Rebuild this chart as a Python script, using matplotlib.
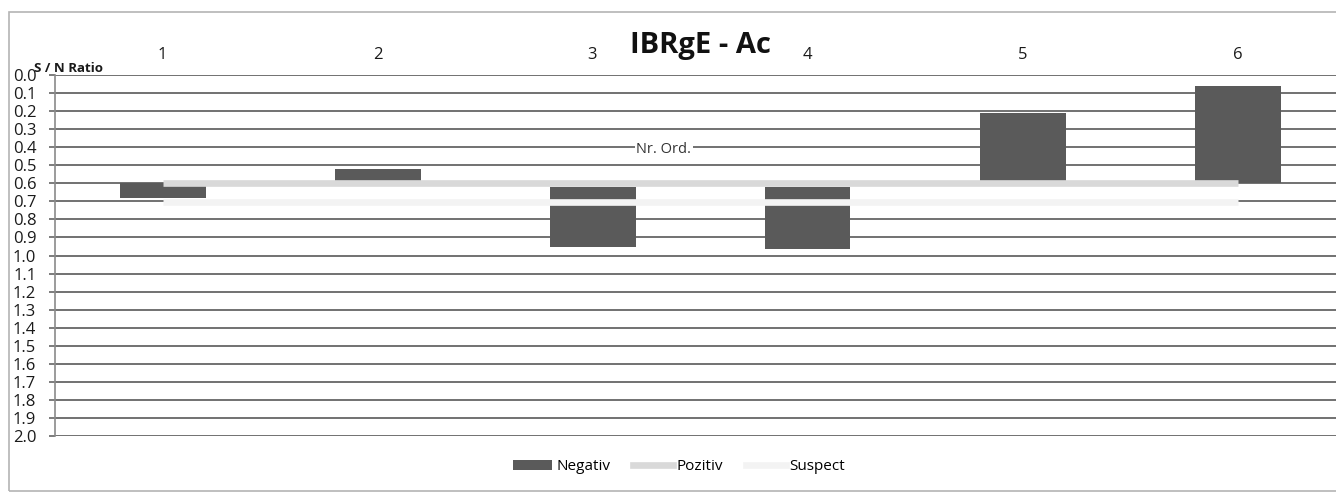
import matplotlib.pyplot as plt
from matplotlib.patches import Rectangle, Patch
from matplotlib.lines import Line2D
import numpy as np

# valori (axa S/N inversata)
categorii = ['1', '2', '3', '4', '5', '6']
negativ_start = [0.60, 0.52, 0.62, 0.62, 0.21, 0.06]
negativ_stop = [0.68, 0.59, 0.955, 0.965, 0.60, 0.60]
pozitiv = [0.60, 0.60, 0.60, 0.60, 0.60, 0.60]
suspect = [0.705, 0.705, 0.705, 0.705, 0.705, 0.705]
y_ticks = np.round(np.arange(0, 2.01, 0.1), 1)

plt.rcParams['font.family'] = ['Open Sans', 'DejaVu Sans']

W, H = 1336, 493
fig = plt.figure(figsize=(W / 100, H / 100), dpi=100)

# cadrul exterior al diagramei
fig.patches.append(Rectangle((9 / W, 2 / H), 1.0, 479 / H, transform=fig.transFigure,
                             fill=False, edgecolor='#b4b4b4', linewidth=1.2))

ax = fig.add_axes([55 / W, (H - 436) / H, 1290 / W, 361 / H])

x = np.arange(1, len(categorii) + 1)
inaltime = np.array(negativ_stop) - np.array(negativ_start)

grid_col = '#666666'
for v in y_ticks:
    ax.axhline(v, color=grid_col, linewidth=1.3, zorder=1)

ax.bar(x, inaltime, bottom=negativ_start, width=0.4, color='#5a5a5a', zorder=2, label='Negativ')
ax.plot(x, pozitiv, color='#d9d9d9', linewidth=4.8, solid_capstyle='butt', zorder=3, label='Pozitiv')
ax.plot(x, suspect, color='#f3f3f3', linewidth=4.8, solid_capstyle='butt', zorder=3, label='Suspect')

ax.set_xlim(0.5, 6.5)
ax.set_ylim(2.0, 0.0)
ax.set_yticks(y_ticks)
ax.set_yticklabels(['%.1f' % v for v in y_ticks])
ax.set_xticks(x)
ax.set_xticklabels(categorii)
ax.xaxis.tick_top()

for s in ['top', 'right', 'bottom']:
    ax.spines[s].set_visible(False)
ax.spines['left'].set_color('#8a8a8a')
ax.spines['left'].set_linewidth(1.2)

ax.tick_params(axis='x', length=0, pad=9, labelsize=12, labelcolor='#1a1a1a')
ax.tick_params(axis='y', length=4.5, width=1.2, color=grid_col, pad=9,
               labelsize=12, labelcolor='#1a1a1a')

ax.text(0.472, 0.795, 'Nr. Ord.', transform=ax.transAxes, ha='center', va='center',
        fontsize=10.5, color='#333333', zorder=4,
        bbox=dict(facecolor='white', edgecolor='none', pad=1))

fig.text(700 / W, 1 - 45 / H, 'IBRgE - Ac', ha='center', va='center',
         fontsize=21, fontweight='bold', color='#111111')
fig.text(34 / W, 1 - 68 / H, 'S / N Ratio', ha='left', va='center',
         fontsize=9.5, fontweight='bold', color='#1a1a1a')

handles = [Patch(facecolor='#5a5a5a', edgecolor='none'),
           Line2D([], [], color='#d9d9d9', linewidth=4.8),
           Line2D([], [], color='#f3f3f3', linewidth=4.8)]
fig.legend(handles, ['Negativ', 'Pozitiv', 'Suspect'], loc='center',
           bbox_to_anchor=(679 / W, 26 / H), ncol=3, frameon=False, fontsize=11,
           handlelength=2.6, handleheight=0.6, handletextpad=0.25, columnspacing=1.5)

fig.savefig('out.png', dpi=100)
